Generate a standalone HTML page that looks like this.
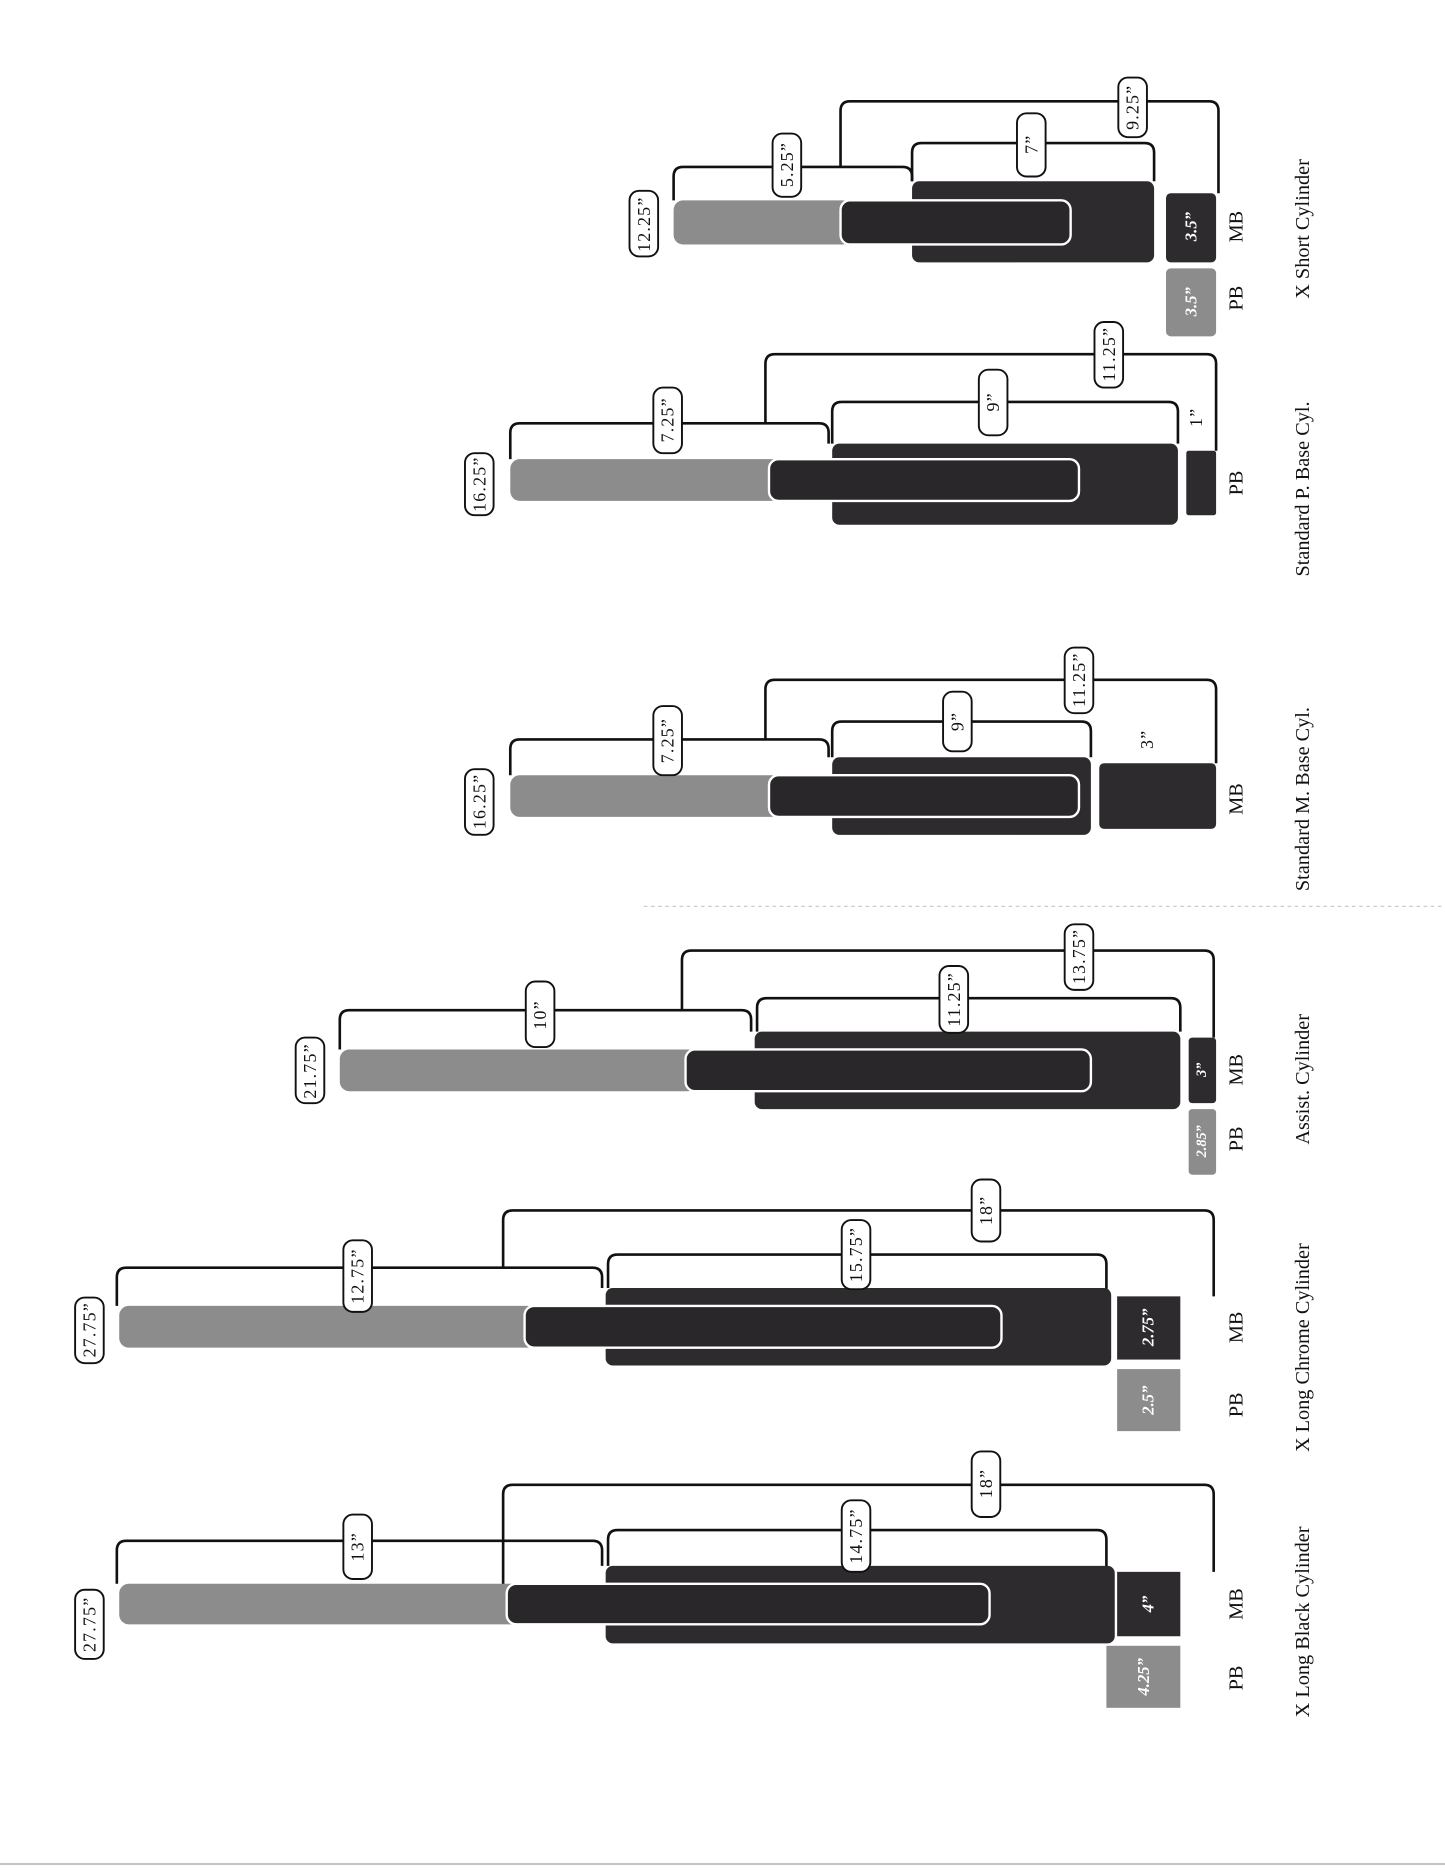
<!DOCTYPE html>
<html><head><meta charset="utf-8"><style>
html,body{margin:0;padding:0;background:#fff}
svg{display:block}
.lb{fill:#fff;stroke:#111;stroke-width:1.6}
.lt{font-family:"Liberation Serif",serif;font-size:15px;fill:#111;text-anchor:middle;dominant-baseline:central;letter-spacing:1px}
.br{fill:none;stroke:#111;stroke-width:2.2}
.g{fill:#8c8c8c}
.d{fill:#2e2b2e}
.in{fill:#2a272a;stroke:#fff;stroke-width:2}
.wt{font-family:"Liberation Serif",serif;font-size:14px;font-weight:bold;fill:#fff;font-style:italic;text-anchor:middle;dominant-baseline:central}
.side{font-family:"Liberation Serif",serif;font-size:17px;fill:#111;text-anchor:middle;dominant-baseline:central}
.name{font-family:"Liberation Serif",serif;font-size:17px;fill:#111;text-anchor:middle;dominant-baseline:central}
</style></head><body>
<svg width="1445" height="1870" viewBox="0 0 1212 1568" preserveAspectRatio="none" xmlns="http://www.w3.org/2000/svg">
<line x1="540" y1="760" x2="1212" y2="760" stroke="#ccc" stroke-width="1" stroke-dasharray="3,3"/>
<line x1="0" y1="1563" x2="1212" y2="1563" stroke="#bbb" stroke-width="1.5"/>

<!-- Group 1 X Long Black -->
<path class="br" d="M98 1328 V1300 Q98 1292 106 1292 H497 Q505 1292 505 1300 V1313"/>
<path class="br" d="M510 1313 V1291 Q510 1283 518 1283 H920 Q928 1283 928 1291 V1318"/>
<path class="br" d="M422 1330 V1253 Q422 1245 430 1245 H1010 Q1018 1245 1018 1253 V1318"/>
<rect class="d" x="508" y="1313" width="427" height="65" rx="6"/>
<rect class="g" x="100" y="1328" width="340" height="34" rx="8"/>
<rect class="in" x="425" y="1328" width="405" height="34" rx="8"/>
<rect class="d" x="937" y="1318" width="53" height="54"/>
<rect class="g" x="928" y="1380" width="62" height="52"/>
<text class="wt" transform="translate(963,1345) rotate(-90)">4”</text>
<text class="wt" transform="translate(959,1406) rotate(-90)">4.25”</text>
<rect class="lb" x="63" y="1333" width="24" height="58" rx="8"/><text class="lt" transform="translate(75,1362) rotate(-90)">27.75”</text>
<rect class="lb" x="288" y="1270" width="24" height="54" rx="8"/><text class="lt" transform="translate(300,1297) rotate(-90)">13”</text>
<rect class="lb" x="706" y="1258" width="24" height="60" rx="8"/><text class="lt" transform="translate(718,1288) rotate(-90)">14.75”</text>
<rect class="lb" x="815" y="1217" width="24" height="55" rx="8"/><text class="lt" transform="translate(827,1244) rotate(-90)">18”</text>
<text class="side" transform="translate(1037,1407) rotate(-90)">PB</text>
<text class="side" transform="translate(1037,1345) rotate(-90)">MB</text>
<text class="name" transform="translate(1093,1360) rotate(-90)">X Long Black Cylinder</text>

<!-- Group 2 X Long Chrome -->
<path class="br" d="M98 1095 V1071 Q98 1063 106 1063 H497 Q505 1063 505 1071 V1080"/>
<path class="br" d="M510 1080 V1060 Q510 1052 518 1052 H920 Q928 1052 928 1060 V1087"/>
<path class="br" d="M422 1063 V1023 Q422 1015 430 1015 H1010 Q1018 1015 1018 1023 V1087"/>
<rect class="d" x="508" y="1080" width="424" height="65" rx="6"/>
<rect class="g" x="100" y="1095" width="350" height="35" rx="8"/>
<rect class="in" x="440" y="1095" width="400" height="35" rx="8"/>
<rect class="d" x="937" y="1087" width="53" height="53"/>
<rect class="g" x="937" y="1148" width="53" height="52"/>
<text class="wt" transform="translate(963,1113) rotate(-90)">2.75”</text>
<text class="wt" transform="translate(963,1174) rotate(-90)">2.5”</text>
<rect class="lb" x="63" y="1088" width="24" height="55" rx="8"/><text class="lt" transform="translate(75,1115) rotate(-90)">27.75”</text>
<rect class="lb" x="288" y="1040" width="24" height="60" rx="8"/><text class="lt" transform="translate(300,1070) rotate(-90)">12.75”</text>
<rect class="lb" x="706" y="1023" width="24" height="58" rx="8"/><text class="lt" transform="translate(718,1052) rotate(-90)">15.75”</text>
<rect class="lb" x="815" y="989" width="24" height="52" rx="8"/><text class="lt" transform="translate(827,1015) rotate(-90)">18”</text>
<text class="side" transform="translate(1037,1178) rotate(-90)">PB</text>
<text class="side" transform="translate(1037,1113) rotate(-90)">MB</text>
<text class="name" transform="translate(1093,1130) rotate(-90)">X Long Chrome Cylinder</text>

<!-- Group 3 Assist -->
<path class="br" d="M285 880 V855 Q285 847 293 847 H622 Q630 847 630 855 V865"/>
<path class="br" d="M635 865 V845 Q635 837 643 837 H982 Q990 837 990 845 V865"/>
<path class="br" d="M572 847 V805 Q572 797 580 797 H1010 Q1018 797 1018 805 V870"/>
<rect class="d" x="633" y="865" width="357" height="65" rx="6"/>
<rect class="g" x="285" y="880" width="300" height="35" rx="8"/>
<rect class="in" x="575" y="880" width="340" height="35" rx="8"/>
<rect class="d" x="997" y="870" width="23" height="55" rx="3"/>
<rect class="g" x="997" y="930" width="23" height="55" rx="3"/>
<text class="wt" style="font-size:12px" transform="translate(1008,897) rotate(-90)">3”</text>
<text class="wt" style="font-size:12px" transform="translate(1008,957) rotate(-90)">2.85”</text>
<rect class="lb" x="248" y="870" width="24" height="55" rx="8"/><text class="lt" transform="translate(260,898) rotate(-90)">21.75”</text>
<rect class="lb" x="441" y="823" width="24" height="55" rx="8"/><text class="lt" transform="translate(453,851) rotate(-90)">10”</text>
<rect class="lb" x="788" y="810" width="24" height="56" rx="8"/><text class="lt" transform="translate(800,838) rotate(-90)">11.25”</text>
<rect class="lb" x="893" y="775" width="24" height="55" rx="8"/><text class="lt" transform="translate(905,802) rotate(-90)">13.75”</text>
<text class="side" transform="translate(1037,955) rotate(-90)">PB</text>
<text class="side" transform="translate(1037,897) rotate(-90)">MB</text>
<text class="name" transform="translate(1093,905) rotate(-90)">Assist. Cylinder</text>

<!-- Group 4 Standard M -->
<path class="br" d="M428 650 V628 Q428 620 436 620 H687 Q695 620 695 628 V635"/>
<path class="br" d="M698 635 V613 Q698 605 706 605 H907 Q915 605 915 613 V635"/>
<path class="br" d="M642 620 V578 Q642 570 650 570 H1012 Q1020 570 1020 578 V640"/>
<rect class="d" x="698" y="635" width="217" height="65" rx="6"/>
<rect class="g" x="428" y="650" width="227" height="35" rx="8"/>
<rect class="in" x="645" y="650" width="260" height="35" rx="8"/>
<rect class="d" x="922" y="640" width="98" height="55" rx="4"/>
<text class="lt" transform="translate(962,620) rotate(-90)">3”</text>
<rect class="lb" x="390" y="645" width="24" height="55" rx="8"/><text class="lt" transform="translate(402,672) rotate(-90)">16.25”</text>
<rect class="lb" x="548" y="592" width="24" height="58" rx="8"/><text class="lt" transform="translate(560,621) rotate(-90)">7.25”</text>
<rect class="lb" x="791" y="580" width="24" height="50" rx="8"/><text class="lt" transform="translate(803,605) rotate(-90)">9”</text>
<rect class="lb" x="893" y="543" width="24" height="55" rx="8"/><text class="lt" transform="translate(905,570) rotate(-90)">11.25”</text>
<text class="side" transform="translate(1037,670) rotate(-90)">MB</text>
<text class="name" transform="translate(1093,670) rotate(-90)">Standard M. Base Cyl.</text>

<!-- Group 5 Standard P -->
<path class="br" d="M428 385 V363 Q428 355 436 355 H687 Q695 355 695 363 V372"/>
<path class="br" d="M698 372 V345 Q698 337 706 337 H980 Q988 337 988 345 V372"/>
<path class="br" d="M642 355 V305 Q642 297 650 297 H1012 Q1020 297 1020 305 V378"/>
<rect class="d" x="698" y="372" width="290" height="68" rx="6"/>
<rect class="g" x="428" y="385" width="227" height="35" rx="8"/>
<rect class="in" x="645" y="385" width="260" height="35" rx="8"/>
<rect class="d" x="995" y="378" width="25" height="54" rx="2"/>
<text class="lt" transform="translate(1003,350) rotate(-90)">1”</text>
<rect class="lb" x="390" y="380" width="24" height="52" rx="8"/><text class="lt" transform="translate(402,406) rotate(-90)">16.25”</text>
<rect class="lb" x="548" y="325" width="24" height="55" rx="8"/><text class="lt" transform="translate(560,352) rotate(-90)">7.25”</text>
<rect class="lb" x="821" y="310" width="24" height="55" rx="8"/><text class="lt" transform="translate(833,337) rotate(-90)">9”</text>
<rect class="lb" x="918" y="270" width="24" height="55" rx="8"/><text class="lt" transform="translate(930,297) rotate(-90)">11.25”</text>
<text class="side" transform="translate(1037,405) rotate(-90)">PB</text>
<text class="name" transform="translate(1093,410) rotate(-90)">Standard P. Base Cyl.</text>

<!-- Group 6 X Short -->
<path class="br" d="M565 168 V148 Q565 140 573 140 H757 Q765 140 765 148 V152"/>
<path class="br" d="M765 152 V128 Q765 120 773 120 H960 Q968 120 968 128 V152"/>
<path class="br" d="M705 140 V93 Q705 85 713 85 H1014 Q1022 85 1022 93 V162"/>
<rect class="d" x="765" y="152" width="203" height="68" rx="6"/>
<rect class="g" x="565" y="168" width="150" height="37" rx="8"/>
<rect class="in" x="705" y="168" width="193" height="37" rx="8"/>
<rect class="d" x="978" y="162" width="42" height="58" rx="4"/>
<rect class="g" x="978" y="225" width="42" height="57" rx="4"/>
<text class="wt" transform="translate(999,190) rotate(-90)">3.5”</text>
<text class="wt" transform="translate(999,253) rotate(-90)">3.5”</text>
<rect class="lb" x="528" y="160" width="24" height="55" rx="8"/><text class="lt" transform="translate(540,188) rotate(-90)">12.25”</text>
<rect class="lb" x="648" y="112" width="24" height="53" rx="8"/><text class="lt" transform="translate(660,138) rotate(-90)">5.25”</text>
<rect class="lb" x="853" y="95" width="24" height="53" rx="8"/><text class="lt" transform="translate(865,121) rotate(-90)">7”</text>
<rect class="lb" x="938" y="65" width="24" height="50" rx="8"/><text class="lt" transform="translate(950,90) rotate(-90)">9.25”</text>
<text class="side" transform="translate(1037,250) rotate(-90)">PB</text>
<text class="side" transform="translate(1037,190) rotate(-90)">MB</text>
<text class="name" transform="translate(1093,192) rotate(-90)">X Short Cylinder</text>
</svg>
</body></html>
